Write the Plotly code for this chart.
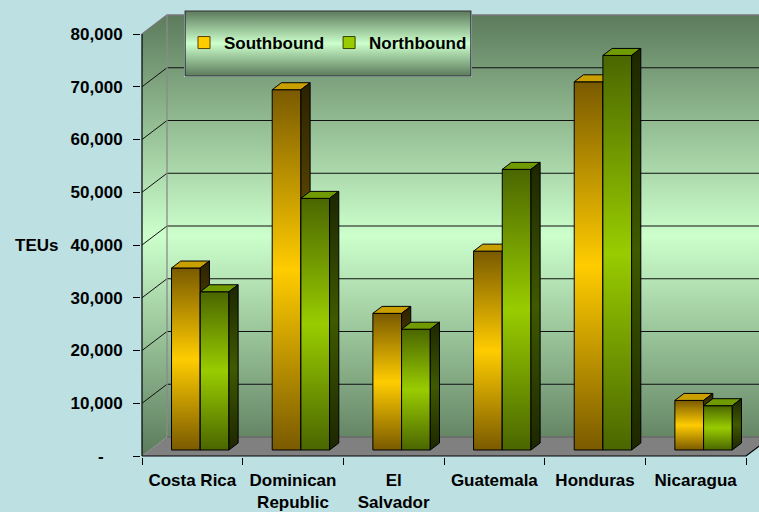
import plotly.graph_objects as go

# ---------------- data ----------------
categories = ['Costa Rica', 'Dominican Republic', 'El Salvador', 'Guatemala', 'Honduras', 'Nicaragua']
tick_labels = ['Costa Rica', 'Dominican<br>Republic', 'El<br>Salvador', 'Guatemala', 'Honduras', 'Nicaragua']
southbound = [34500, 68300, 25900, 37700, 69800, 9400]
northbound = [30000, 47700, 22900, 53200, 74800, 8400]
series_names = ['Southbound', 'Northbound']
y_ticks = [0, 10000, 20000, 30000, 40000, 50000, 60000, 70000, 80000]
y_tick_labels = ['-\u00a0\u00a0\u00a0\u00a0', '10,000', '20,000', '30,000', '40,000',
                 '50,000', '60,000', '70,000', '80,000']
axis_title = 'TEUs'

# ---------------- layout geometry ----------------
W, H = 759, 512
ML, MR, MT, MB = 141, 0, 10, 55
PW, PH = W - ML - MR, H - MT - MB
X_FRONT_PX, CAT_PX = 142, 100.67
Y_ZERO_PX, UNIT_PX = 456, 422 / 80000
YMAX = y_ticks[-1]


def xdata(px):
    return (px - X_FRONT_PX) / CAT_PX - 0.5


def ydata(py):
    return (Y_ZERO_PX - py) / UNIT_PX


DX = 25 / CAT_PX          # depth offset (data units)
DY = 19 / UNIT_PX
BAR_F, BAR_B = 0.316, 0.684   # bar front/back depth fractions
BAR_W = 0.285
NCAT = len(categories)
XL, XR = -0.5, NCAT - 0.5

FONT = dict(family='Liberation Sans, Arial, sans-serif', size=17, color='black', weight=700)
BG = '#bde0e3'
WALL_GRAD = dict(type='vertical', start=0, stop=YMAX + DY,
                 colorscale=[[0, '#5c7b5c'], [0.5, '#ccffcc'], [1, '#5c7b5c']])

fig = go.Figure()

# legend entries
leg_cols = [('#ffcc00', '#5a4000'), ('#99cc00', '#344400')]
for name, (c, lc) in zip(series_names, leg_cols):
    fig.add_trace(go.Bar(x=[None], y=[None], name=name,
                         marker=dict(color=c, line=dict(color=lc, width=1))))


def poly(xs, ys, color=None, grad=None, lc='black', lw=1, xa='x', ya='y'):
    fig.add_trace(go.Scatter(x=list(xs) + [xs[0]], y=list(ys) + [ys[0]], mode='lines',
                             fill='toself', fillcolor=color, fillgradient=grad,
                             line=dict(color=lc, width=lw), hoverinfo='skip',
                             showlegend=False, xaxis=xa, yaxis=ya))


def line(xs, ys, c='black', w=1):
    fig.add_trace(go.Scatter(x=xs, y=ys, mode='lines', line=dict(color=c, width=w),
                             hoverinfo='skip', showlegend=False))


# walls and floor
poly([XL + DX, XR + DX, XR + DX, XL + DX], [DY, DY, YMAX + DY, YMAX + DY], grad=WALL_GRAD, lw=0)
poly([XL, XL + DX, XL + DX, XL], [0, DY, YMAX + DY, YMAX], grad=WALL_GRAD, lw=0)
poly([XL, XR, XR + DX, XL + DX], [0, 0, DY, DY], color='#808080', lw=0)

# gridlines
for k in y_ticks[1:-1]:
    line([XL, XL + DX, XR + DX], [k, k + DY, k + DY], c='#111111', w=1)
# edges
line([XL, XL + DX, XR + DX], [YMAX, YMAX + DY, YMAX + DY], c='#777777', w=1.3)
line([XL + DX, XL + DX], [DY, YMAX + DY], c='#8a8a8a', w=1.3)
line([XL + DX, XR + DX], [DY, DY], c='#6a6a6a', w=1.3)
line([XL, XL], [0, YMAX], c='black', w=1.2)
line([XL, XR, XR + DX], [0, 0, DY], c='black', w=1.2)

# bars
face_cols = [
    dict(front=('#7a5a00', '#ffcc00'), side=('#2a2100', '#6e5600'), top='#c9a000'),
    dict(front=('#4a6600', '#99cc00'), side=('#1c2600', '#3f5a00'), top='#6f9a00'),
]
a0, b0 = BAR_F * DX, BAR_F * DY
a1, b1 = BAR_B * DX, BAR_B * DY
for i in range(NCAT):
    for s, vals in enumerate([southbound, northbound]):
        v = vals[i]
        xl = i - BAR_W + s * BAR_W
        xr = xl + BAR_W
        cols = face_cols[s]
        fd, fm = cols['front']
        poly([xl + a0, xr + a0, xr + a0, xl + a0], [b0, b0, v + b0, v + b0],
             grad=dict(type='vertical', colorscale=[[0, fd], [0.5, fm], [1, fd]]))
        poly([xl + a0, xr + a0, xr + a1, xl + a1], [v + b0, v + b0, v + b1, v + b1],
             color=cols['top'])
        sd, sm = cols['side']
        poly([xr + a0, xr + a1, xr + a1, xr + a0], [b0, b1, v + b1, v + b0],
             grad=dict(type='vertical', colorscale=[[0, sd], [0.5, sm], [1, sd]]))

# legend box on its own small subplot
LB = (184, 10, 472, 77)
poly([0, 1, 1, 0], [0, 0, 1, 1],
     grad=dict(type='vertical', colorscale=[[0, '#5b7a5b'], [0.5, '#ccffcc'], [1, '#5b7a5b']]),
     lc='#333333', lw=1.2, xa='x3', ya='y3')

fig.add_annotation(text=axis_title, xref='paper', yref='y', x=(36 - ML) / PW, y=40000,
                   xanchor='center', yanchor='middle', showarrow=False, font=FONT)

fig.update_layout(
    width=W, height=H,
    margin=dict(l=ML, r=MR, t=MT, b=MB, pad=0),
    paper_bgcolor=BG, plot_bgcolor=BG,
    font=FONT,
    showlegend=True,
    legend=dict(orientation='h', x=(184 - ML) / PW, xanchor='left',
                y=(H - MB - 43) / PH, yanchor='middle',
                bgcolor='rgba(0,0,0,0)', borderwidth=0, font=FONT),
    xaxis=dict(range=[xdata(ML), xdata(W - MR)], showgrid=False, zeroline=False, showline=False,
               tickmode='array', tickvals=list(range(NCAT)), ticktext=tick_labels,
               ticks='', ticklabelstandoff=11, tickfont=FONT,
               minor=dict(tickmode='array', tickvals=[k - 0.5 for k in range(NCAT + 1)],
                          ticks='outside', ticklen=7, tickcolor='black', tickwidth=1, showgrid=False)),
    yaxis=dict(range=[ydata(H - MB), ydata(MT)], showgrid=False, zeroline=False, showline=False,
               tickmode='array', tickvals=y_ticks, ticktext=y_tick_labels,
               ticks='outside', ticklen=7, tickcolor='black', tickwidth=1,
               ticklabelstandoff=7, tickfont=FONT),
    xaxis3=dict(domain=[(LB[0] - ML) / PW, (LB[2] - ML) / PW], range=[-0.004, 1.004],
                visible=False, anchor='y3'),
    yaxis3=dict(domain=[(H - MB - LB[3]) / PH, 1], range=[-0.015, 1.015],
                visible=False, anchor='x3'),
)

fig.write_html('out.html')
